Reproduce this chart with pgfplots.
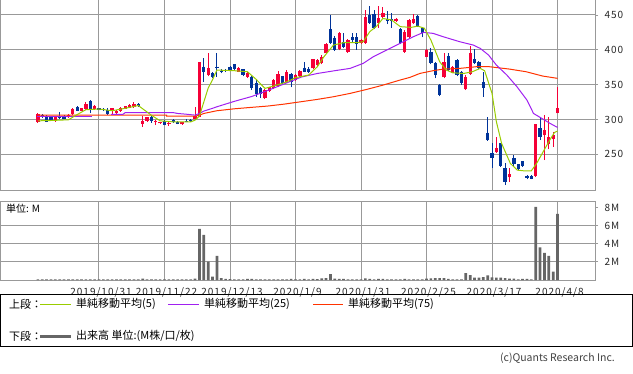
\documentclass[border=0pt]{standalone}
\usepackage{fontspec}
\setmainfont{Noto Sans CJK JP}
\newfontfamily\tickfont[LetterSpace=10]{Noto Sans CJK JP}
\usepackage{pgfplots}
\usepackage{pgfplotstable}
\pgfplotsset{compat=1.18}
\definecolor{upred}{RGB}{245,0,55}
\definecolor{downblue}{RGB}{0,51,153}
\definecolor{maA}{RGB}{153,204,0}
\definecolor{maB}{RGB}{160,32,240}
\definecolor{maC}{RGB}{255,51,0}
\definecolor{gridgray}{RGB}{153,153,153}
\definecolor{volgray}{RGB}{102,102,102}

\pgfplotstableread{
i o h l c
-14 296 309 295 308
-10 298 304 297 303
-7 303 308 302 307
-6 308 317 307 315
-4 312.5 317 312 316
-3 315 325 314 322
-1 315 321 314 320
3 314 317 307 316
4 308.6 313 308 312
5 312 318 311 317
6 315.3 320 315 319.6
7 316.7 322 316 320.5
8 317.3 325 317 321.6
10 293.3 305 289.5 297.6
11 298 304 297 303.8
13 296 299 292 298
14 294.3 297 294 296.6
16 292.8 296 290.4 295.2
19 292.8 296 292.5 295.7
22 300 318 299 304.5
23 304 383 303 383
25 364 395.8 362 374.5
32 368.5 375 368 374.3
34 361.3 368 360 367
38 331.2 343 330 342.2
39 341.3 347 340 346
40 344.6 358 343 356.5
41 347.9 370 347 365.2
43 354.1 371 353 368.5
45 356.5 365 355 363.7
46 362.3 371 361 370
49 373.3 387 372 386.2
50 378 387 376 385.3
51 380.5 393 379 390
52 395 410 394 409
55 400.6 426 399 424.6
57 397.3 415 396 414
60 409.2 416 408 414
61 410.2 457 409 447.6
64 438 463 432 445.2
65 447.6 462 446 452.3
68 442 446 440 444
70 397.3 428 396 426
71 417.9 444 417 442.8
72 438 451 437 443.7
75 390.1 401 389 399.7
79 360.4 395 359 382.9
81 367 377 366 375.7
84 343.1 363.7 342.2 360.4
85 365.2 405.4 363.7 394.9
91 252.6 275.1 252 259.3
94 216.7 229.6 210.5 221.5
100 219.1 294 218 293.3
102 277.5 306.2 241.6 284.7
103 264.6 303.8 256.9 274.2
104 271.3 282.3 260.8 277.5
105 308.6 347 308.6 315.8
}\upcandles

\pgfplotstableread{
i o h l c
-13 307 308 302 303
-12 305 306 296 297
-11 304 305 298 299
-9 304 310 301 302.5
-8 305 306 300 300.5
-5 318 319 312 312.5
-2 327 328 309 315
0 316 317 313 314
1 315 316 312 313
2 313 317 307 308
9 322.7 324 318 319.2
12 303.8 304.5 295.5 298
15 298 299 292 292.3
17 299 300 295 295.7
18 296.6 297.5 293 293.3
20 297.5 300 296 296.5
21 298.5 300 296.5 297.1
24 375.7 387.7 354 367.6
26 367 368 360 361.3
27 375.7 395.8 361.3 373.3
28 370 373 366 368.5
29 371 373 368 369.5
30 375.7 377 370 370.9
31 379 380 371 372
33 372 373 362 363.7
35 361.3 362 342 344.6
36 352.7 356.5 332.6 336.4
37 344.6 346 330.7 336.4
42 362.3 363 350 351.8
44 365.2 366 346 354.1
47 374.3 383 368 368.5
48 373 375 367 368.5
53 430 450 409 410
54 417.4 420 398 399.7
56 411.6 424 402 403.5
58 418 424.6 410 414
59 418 424 400 409
62 450 463 437 439
63 451.4 457 429.4 430.8
66 444 455 437 442
67 444 453 432 442
69 429.4 431 408 409.2
73 448.5 450 433 434.1
74 430.8 432 418 423.6
76 397.3 402 379 380.5
77 380.5 382 358.9 363.7
78 349.4 351 333 335
80 391 395.8 369 370.9
82 385.3 387 362 363.7
83 368.5 370 350 351.7
86 386.2 400.6 380 381.4
87 382.9 384 372 373.3
88 354.1 368.5 332.6 344.6
89 280.9 302.9 269.3 270.3
90 251.2 265.5 230.6 244
92 265.5 266 232 233.4
93 230.6 236.8 205.7 210.5
95 244 248.8 232 235.8
96 235.4 236 227 228.2
97 240.6 241 232 233.4
98 218.5 220 214 216.3
99 219.1 220 214 214.3
101 287.1 303.8 270.3 275.1
}\downcandles

\pgfplotstableread{
i v
-14 0.06
-13 0.06
-12 0.06
-11 0.06
-10 0.06
-9 0.06
-8 0.06
-7 0.06
-6 0.06
-5 0.06
-4 0.06
-3 0.06
-2 0.06
-1 0.06
0 0.06
1 0.06
2 0.06
3 0.06
4 0.06
5 0.06
6 0.06
7 0.06
8 0.06
9 0.06
10 0.15
11 0.06
12 0.06
13 0.06
14 0.06
15 0.06
16 0.06
17 0.06
18 0.06
19 0.06
20 0.06
21 0.06
22 0.15
23 5.63
24 4.97
25 2.03
26 0.37
27 2.66
28 0.2
29 0.12
30 0.1
31 0.06
32 0.06
33 0.06
34 0.12
35 0.12
36 0.06
37 0.06
38 0.06
39 0.06
40 0.06
41 0.06
42 0.06
43 0.06
44 0.12
45 0.06
46 0.06
47 0.12
48 0.06
49 0.12
50 0.1
51 0.18
52 0.22
53 0.66
54 0.15
55 0.12
56 0.12
57 0.08
58 0.06
59 0.08
60 0.06
61 0.18
62 0.12
63 0.06
64 0.12
65 0.12
66 0.06
67 0.06
68 0.06
69 0.06
70 0.12
71 0.06
72 0.06
73 0.06
74 0.06
75 0.15
76 0.18
77 0.2
78 0.22
79 0.22
80 0.12
81 0.06
82 0.06
83 0.06
84 0.77
85 0.55
86 0.26
87 0.26
88 0.33
89 0.51
90 0.3
91 0.26
92 0.26
93 0.22
94 0.15
95 0.15
96 0.06
97 0.12
98 0.12
99 0.06
100 8.05
101 3.6
102 3.0
103 2.65
104 0.92
105 7.3
}\volume

\begin{document}
\begin{tikzpicture}
\useasboundingbox (0,0) rectangle (633pt,373pt);
\pgfplotsset{
  panel/.style={
    scale only axis, width=595pt,
    xmin=-22.67, xmax=113.58,
    axis line style={gridgray, line width=1pt},
    grid=major, grid style={gridgray, line width=1pt},
    xtick={0,15,...,105},
    xtick style={draw=none},
    ytick pos=right, yticklabel pos=right,
    ytick style={gridgray, line width=0.8pt},
    tick align=outside, major tick length=3pt,
    ticklabel style={font=\tickfont\fontsize{10}{12}\selectfont, text=black!85},
    /pgf/number format/assume math mode=true,
    clip=true,
  }
}
% price panel
\begin{axis}[panel, at={(0pt,183pt)}, anchor=south west, height=190pt,
  ymin=198.7, ymax=471.5, ytick={250,300,350,400,450},
  xticklabels={}, yticklabel style={xshift=3pt}]
\addplot[draw=upred, line width=0.9pt, quiver={u=0, v=\thisrow{h}-\thisrow{l}}] table[x=i, y=l] {\upcandles};
\addplot[draw=upred, line width=3.3pt, quiver={u=0, v=\thisrow{c}-\thisrow{o}}] table[x=i, y=o] {\upcandles};
\addplot[draw=downblue, line width=0.9pt, quiver={u=0, v=\thisrow{h}-\thisrow{l}}] table[x=i, y=l] {\downcandles};
\addplot[draw=downblue, line width=3.3pt, quiver={u=0, v=\thisrow{c}-\thisrow{o}}] table[x=i, y=o] {\downcandles};
% 75-day MA
\addplot[maC, line width=1pt] coordinates {(-14,306.2) (15.5,306.2) (15.5,304.8) (22,304.8) (23,306) (24,308.6) (27,312.5) (31,315.3) (34.8,317.3) (38.6,319.2) (42.4,322) (46.2,325.4) (50,328.8) (53.7,332.6) (57.5,337.4) (61.3,343.1) (65.1,349.4) (68.9,356.5) (71.2,360.4) (73.5,366.1) (76.5,370) (78.8,372.3) (82.6,373.3) (86.4,375.7) (89.4,375.7) (94,372.3) (97.8,368.5) (101.6,362.3) (105,359)};
% 25-day MA
\addplot[maB, line width=1pt] coordinates {(-14.2,304.8) (-1.5,304.8)};
\addplot[maB, line width=1pt] coordinates {(2.8,307.4) (5.5,307.4) (6,309.8) (17,309.8) (18,308.6) (20,307.5) (22,306.2) (23,308.6) (24,312) (26,316) (27,318.2) (31,326) (35,333) (38.8,342) (42,350) (46.4,361) (50,366) (54,370) (57.5,373.3) (60.5,380.5) (62.8,390) (65.9,399.7) (68.9,409.2) (72,418.8) (74.3,425) (76.5,423.6) (78.8,418.8) (82.6,411.6) (85.7,406.8) (87.3,402) (89.2,392.5) (91,378) (93.4,363.7) (95.7,347) (98,327.8) (99.5,308.6) (101.4,301.5) (103.3,294.3) (105,288.5)};
% 5-day MA
\addplot[maA, line width=1pt] coordinates {(-14,298) (-11,298.5) (-7,299.5) (-5,307) (-3,314) (0,315) (3,312.5) (6,316) (9,320) (12,306) (14,298) (17,296.5) (21,296.5) (22,299) (23,305) (24,325) (25,345) (26,357) (27,370.9) (31,370) (34,368.5) (36,357.5) (38,344.6) (40,348) (43,354) (45,360) (48,363.7) (50,375.7) (51.5,390) (53.7,406.8) (56,410.2) (59,410.2) (60.5,411.6) (62,426) (63.6,434) (65,445) (67,442.8) (69,433.2) (71.5,432.2) (73,434) (74.5,431) (76,414) (78,383) (79.5,371) (81,367) (83.5,366) (85.5,368.5) (87.3,373.3) (88.3,370) (90,337.4) (91,296.7) (92.2,265.5) (94.2,236.8) (95.8,227.2) (97.2,226.3) (99,226.3) (100.2,236.8) (101.7,253.5) (103.2,270.3) (104.3,281.3) (105,283.3)};
\end{axis}
% volume panel
\begin{axis}[panel, at={(0pt,93pt)}, anchor=south west, height=78.4pt,
  ymin=0, ymax=8.64, ytick={2,4,6},
  extra y ticks={8}, extra y tick style={grid=none},
  yticklabel={\pgfmathprintnumber{\tick}M}, yticklabel style={xshift=3pt},
  xticklabels={2019/10/31,2019/11/22,2019/12/13,2020/1/9,2020/1/31,2020/2/25,2020/3/17,2020/4/8},
  xticklabel style={yshift=-1pt, xshift=2pt}]
\addplot[ybar, bar width=2.7pt, fill=volgray, draw=none] table[x=i, y=v] {\volume};
\end{axis}
\node[anchor=west, font=\fontsize{10}{12}\selectfont, inner sep=0pt] at (6pt,164pt) {単位: M};
% legend box
\draw[black, line width=0.9pt] (0.5pt,79pt) rectangle (632pt,26.3pt);
\begin{scope}[font=\fontsize{11}{13}\selectfont]
\node[anchor=west, inner sep=0pt] at (9pt,69pt) {上段：};
\draw[maA, line width=1pt] (40pt,69pt) -- (71pt,69pt);
\node[anchor=west, inner sep=0pt] at (76pt,69pt) {単純移動平均(5)};
\draw[maB, line width=1pt] (168pt,69pt) -- (199pt,69pt);
\node[anchor=west, inner sep=0pt] at (204pt,69pt) {単純移動平均(25)};
\draw[maC, line width=1pt] (313pt,69pt) -- (343pt,69pt);
\node[anchor=west, inner sep=0pt] at (348pt,69pt) {単純移動平均(75)};
\node[anchor=west, inner sep=0pt] at (9pt,37pt) {下段：};
\draw[volgray, line width=3pt] (40pt,37pt) -- (71pt,37pt);
\node[anchor=west, inner sep=0pt] at (76pt,37pt) {出来高 単位:(M株/口/枚)};
\end{scope}
\node[anchor=east, inner sep=0pt, text=black!75, font=\fontsize{10.5}{12}\selectfont] at (615pt,15pt) {(c)Quants Research Inc.};
\end{tikzpicture}
\end{document}
